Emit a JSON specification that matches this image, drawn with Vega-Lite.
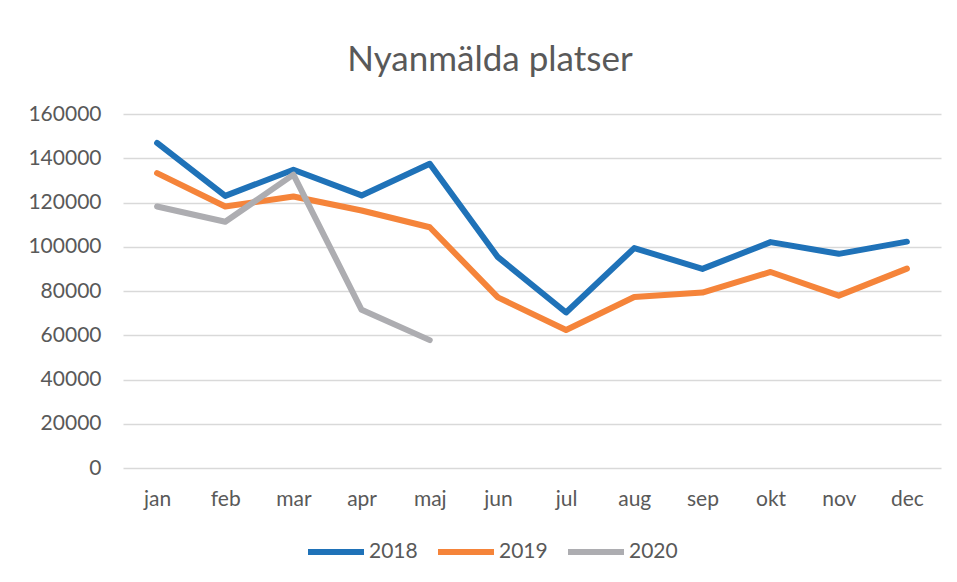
{
  "$schema": "https://vega.github.io/schema/vega-lite/v6.json",
  "autosize": "none",
  "width": 818,
  "height": 354,
  "padding": {"left": 123, "top": 114, "right": 16, "bottom": 114},
  "background": "white",
  "title": {
    "text": "Nyanmälda platser",
    "font": "Lato",
    "fontSize": 35,
    "fontWeight": "normal",
    "color": "#595959",
    "anchor": "middle",
    "dx": -42,
    "offset": 25
  },
  "data": {
    "values": [
      {"month": "jan", "year": "2018", "value": 146900},
      {"month": "feb", "year": "2018", "value": 123000},
      {"month": "mar", "year": "2018", "value": 134800},
      {"month": "apr", "year": "2018", "value": 123200},
      {"month": "maj", "year": "2018", "value": 137500},
      {"month": "jun", "year": "2018", "value": 95300},
      {"month": "jul", "year": "2018", "value": 70300},
      {"month": "aug", "year": "2018", "value": 99400},
      {"month": "sep", "year": "2018", "value": 90000},
      {"month": "okt", "year": "2018", "value": 102100},
      {"month": "nov", "year": "2018", "value": 96800},
      {"month": "dec", "year": "2018", "value": 102300},
      {"month": "jan", "year": "2019", "value": 133300},
      {"month": "feb", "year": "2019", "value": 118200},
      {"month": "mar", "year": "2019", "value": 122700},
      {"month": "apr", "year": "2019", "value": 116400},
      {"month": "maj", "year": "2019", "value": 108800},
      {"month": "jun", "year": "2019", "value": 77100},
      {"month": "jul", "year": "2019", "value": 62400},
      {"month": "aug", "year": "2019", "value": 77300},
      {"month": "sep", "year": "2019", "value": 79300},
      {"month": "okt", "year": "2019", "value": 88600},
      {"month": "nov", "year": "2019", "value": 77900},
      {"month": "dec", "year": "2019", "value": 90100},
      {"month": "jan", "year": "2020", "value": 118200},
      {"month": "feb", "year": "2020", "value": 111300},
      {"month": "mar", "year": "2020", "value": 132600},
      {"month": "apr", "year": "2020", "value": 71500},
      {"month": "maj", "year": "2020", "value": 57800}
    ]
  },
  "mark": {"type": "line", "strokeWidth": 6, "strokeCap": "round", "strokeJoin": "round"},
  "encoding": {
    "x": {
      "field": "month",
      "type": "ordinal",
      "sort": ["jan", "feb", "mar", "apr", "maj", "jun", "jul", "aug", "sep", "okt", "nov", "dec"],
      "scale": {"type": "point", "padding": 0.5},
      "axis": {
        "title": null,
        "labelAngle": 0,
        "domain": false,
        "ticks": false,
        "grid": false,
        "labelFont": "Lato",
        "labelFontSize": 21,
        "labelColor": "#595959",
        "labelPadding": 20
      }
    },
    "y": {
      "field": "value",
      "type": "quantitative",
      "scale": {"domain": [0, 160000], "nice": false},
      "axis": {
        "title": null,
        "values": [0, 20000, 40000, 60000, 80000, 100000, 120000, 140000, 160000],
        "format": "d",
        "domain": false,
        "ticks": false,
        "grid": true,
        "gridColor": "#d9d9d9",
        "gridWidth": 1.5,
        "labelFont": "Lato",
        "labelFontSize": 21,
        "labelColor": "#595959",
        "labelPadding": 22
      }
    },
    "color": {
      "field": "year",
      "type": "nominal",
      "scale": {"domain": ["2018", "2019", "2020"], "range": ["#1f72b8", "#f5843a", "#adadb1"]},
      "legend": {
        "title": null,
        "orient": "none",
        "direction": "horizontal",
        "legendX": 182,
        "legendY": 407,
        "symbolType": "stroke",
        "symbolSize": 3136,
        "symbolStrokeWidth": 6,
        "labelFont": "Lato",
        "labelFontSize": 21,
        "labelColor": "#595959",
        "labelOffset": 2,
        "columnPadding": 8
      }
    }
  },
  "config": {"view": {"stroke": null}}
}
